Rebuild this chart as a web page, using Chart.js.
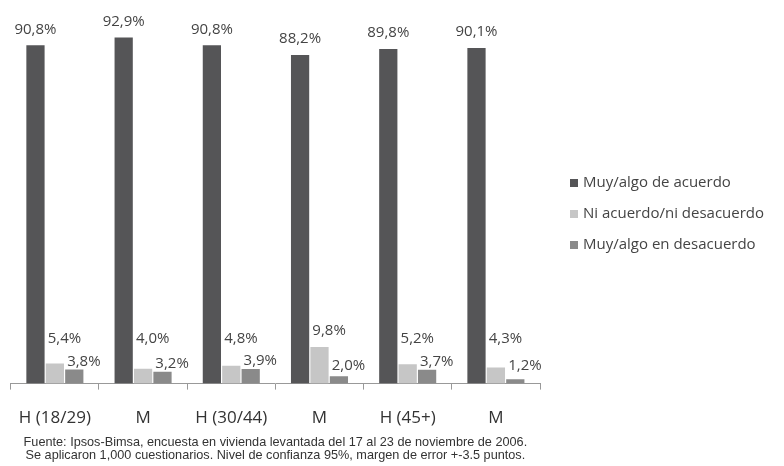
<!DOCTYPE html>
<html>
<head>
<meta charset="utf-8">
<script src="https://cdn.jsdelivr.net/npm/chart.js@4.4.1/dist/chart.umd.min.js"></script>
<style>
  html, body { margin: 0; padding: 0; background: #fff; }
  #wrap { width: 784px; height: 466px; position: relative; }
</style>
</head>
<body>
<div id="wrap"><canvas id="chart" width="784" height="466"></canvas></div>
<script>
// Datos
var categorias = ['H (18/29)', 'M', 'H (30/44)', 'M', 'H (45+)', 'M'];
var deAcuerdo = [90.8, 92.9, 90.8, 88.2, 89.8, 90.1];
var niNi = [5.4, 4.0, 4.8, 9.8, 5.2, 4.3];
var enDesacuerdo = [3.8, 3.2, 3.9, 2.0, 3.7, 1.2];
var series = ['Muy/algo de acuerdo', 'Ni acuerdo/ni desacuerdo', 'Muy/algo en desacuerdo'];
var colores = ['#555557', '#c6c6c6', '#8a8a8a'];
var fuente = [
  'Fuente: Ipsos-Bimsa, encuesta en vivienda levantada del 17 al 23 de noviembre de 2006.',
  'Se aplicaron 1,000 cuestionarios. Nivel de confianza 95%, margen de error +-3.5 puntos.'
];

function fmt(v) {
  return v.toFixed(1).replace('.', ',') + '%';
}

// Etiquetas de valor sobre las barras
var etiquetas = {
  id: 'etiquetas',
  afterDatasetsDraw: function (chart) {
    var ctx = chart.ctx;
    var bottom = chart.chartArea.bottom;
    ctx.save();
    ctx.font = '15px "Open Sans"';
    ctx.fillStyle = '#444';
    chart.data.datasets.forEach(function (ds, i) {
      var meta = chart.getDatasetMeta(i);
      meta.data.forEach(function (bar, j) {
        var txt = fmt(ds.data[j]);
        var left = bar.x - bar.width / 2;
        ctx.textBaseline = 'middle';
        if (i === 0) {
          ctx.textAlign = 'center';
          ctx.fillText(txt, bar.x, bar.y - 16);
        } else if (i === 1) {
          ctx.textAlign = 'left';
          ctx.fillText(txt, left + 2, Math.min(bar.y - 16, bottom - 45));
        } else {
          ctx.textAlign = 'left';
          ctx.fillText(txt, left + 2, Math.min(bar.y - 8, bottom - 18));
        }
      });
    });
    ctx.restore();
  }
};

// Leyenda y nota de fuente
var extras = {
  id: 'extras',
  afterDraw: function (chart) {
    var ctx = chart.ctx;
    var area = chart.chartArea;
    ctx.save();
    ctx.font = '15px "Open Sans"';
    ctx.textAlign = 'left';
    ctx.textBaseline = 'middle';
    series.forEach(function (s, i) {
      var y = 183 + i * 31;
      ctx.fillStyle = colores[i];
      ctx.fillRect(area.right + 30, y - 4, 8, 8);
      ctx.fillStyle = '#444';
      ctx.fillText(s, area.right + 43, y);
    });
    ctx.font = '12.7px "Liberation Sans"';
    ctx.fillStyle = '#333';
    ctx.textAlign = 'center';
    var cx = (area.left + area.right) / 2;
    ctx.fillText(fuente[0], cx, 442);
    ctx.fillText(fuente[1], cx, 455);
    ctx.restore();
  }
};

var chart = new Chart(document.getElementById('chart').getContext('2d'), {
  type: 'bar',
  data: {
    labels: categorias,
    datasets: [
      { label: series[0], data: deAcuerdo, backgroundColor: colores[0] },
      { label: series[1], data: niNi, backgroundColor: colores[1] },
      { label: series[2], data: enDesacuerdo, backgroundColor: colores[2] }
    ]
  },
  options: {
    responsive: false,
    animation: false,
    devicePixelRatio: 1,
    layout: { padding: { left: 10, right: 244, top: 11, bottom: 20 } },
    datasets: { bar: { categoryPercentage: 0.66, barPercentage: 0.94 } },
    plugins: {
      legend: { display: false },
      tooltip: { enabled: false }
    },
    scales: {
      x: {
        grid: { display: true, drawOnChartArea: false, drawTicks: true, tickLength: 6, color: '#999', offset: true },
        border: { display: true, color: '#999' },
        ticks: { color: '#333', font: { family: 'Open Sans', size: 17 }, padding: 18, maxRotation: 0 }
      },
      y: {
        display: false,
        min: 0,
        max: 100
      }
    }
  },
  plugins: [etiquetas, extras]
});
</script>
</body>
</html>
